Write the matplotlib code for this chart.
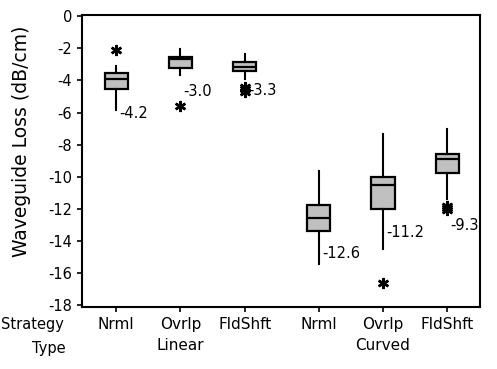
import matplotlib
matplotlib.use("Agg")
import matplotlib.pyplot as plt

# box statistics (dB/cm)
groups = ["Nrml", "Ovrlp", "FldShft", "Nrml", "Ovrlp", "FldShft"]
positions = [1, 2, 3, 4.15, 5.15, 6.15]
q1 = [-4.55, -3.24, -3.42, -13.39, -12.02, -9.78]
q3 = [-3.55, -2.55, -2.86, -11.77, -10.02, -8.59]
med = [-3.92, -2.68, -3.18, -12.58, -10.52, -8.90]
whislo = [-5.85, -3.67, -3.92, -15.44, -14.51, -11.40]
whishi = [-3.11, -2.05, -2.37, -9.65, -7.35, -7.04]
fliers = [[-2.12], [-5.6], [-4.4, -4.55, -4.7], [], [-16.63], [-11.8, -11.95, -12.05]]
means = [-4.2, -3.0, -3.3, -12.6, -11.2, -9.3]
label_y = [-6.05, -4.7, -4.6, -14.75, -13.45, -13.0]

stats = []
for i in range(len(groups)):
    stats.append(dict(med=med[i], q1=q1[i], q3=q3[i], whislo=whislo[i],
                      whishi=whishi[i], fliers=fliers[i]))

fig = plt.figure(figsize=(4.97, 3.69), dpi=100)
ax = fig.add_axes([0.165, 0.168, 0.801, 0.791])

ax.bxp(stats, positions=positions, widths=0.36, patch_artist=True,
       showcaps=False,
       boxprops=dict(facecolor="#c0c0c0", edgecolor="black", linewidth=1.6),
       medianprops=dict(color="black", linewidth=1.6),
       whiskerprops=dict(color="black", linewidth=1.5),
       flierprops=dict(marker=(6, 2, 0), markersize=8, markeredgecolor="black",
                       markeredgewidth=1.8))

for p, m, ly in zip(positions, means, label_y):
    ax.text(p + 0.05, ly, "%.1f" % m, ha="left", va="center", fontsize=10.5)

ax.set_xlim(0.47, 6.66)
ax.set_ylim(-18.1, 0.06)
ax.set_yticks(range(-18, 1, 2))
ax.set_yticklabels([str(v) for v in range(-18, 1, 2)], fontsize=10.5)
ax.set_xticks(positions)
ax.set_xticklabels(["Nrml\n", "Ovrlp\nLinear", "FldShft\n",
                    "Nrml\n", "Ovrlp\nCurved", "FldShft\n"],
                   fontsize=11, linespacing=1.55)
ax.tick_params(direction="out", length=3.5, width=1.2)
for s in ax.spines.values():
    s.set_linewidth(1.5)

ax.set_ylabel("Waveguide Loss (dB/cm)", fontsize=13.5)
ax.yaxis.set_label_coords(-0.128, 0.568)
fig.text(64 / 497, 1 - 325 / 369, "Strategy", ha="right", va="center", fontsize=10.5)
fig.text(66 / 497, 1 - 348 / 369, "Type", ha="right", va="center", fontsize=10.5)

fig.savefig("out.png", dpi=100)
